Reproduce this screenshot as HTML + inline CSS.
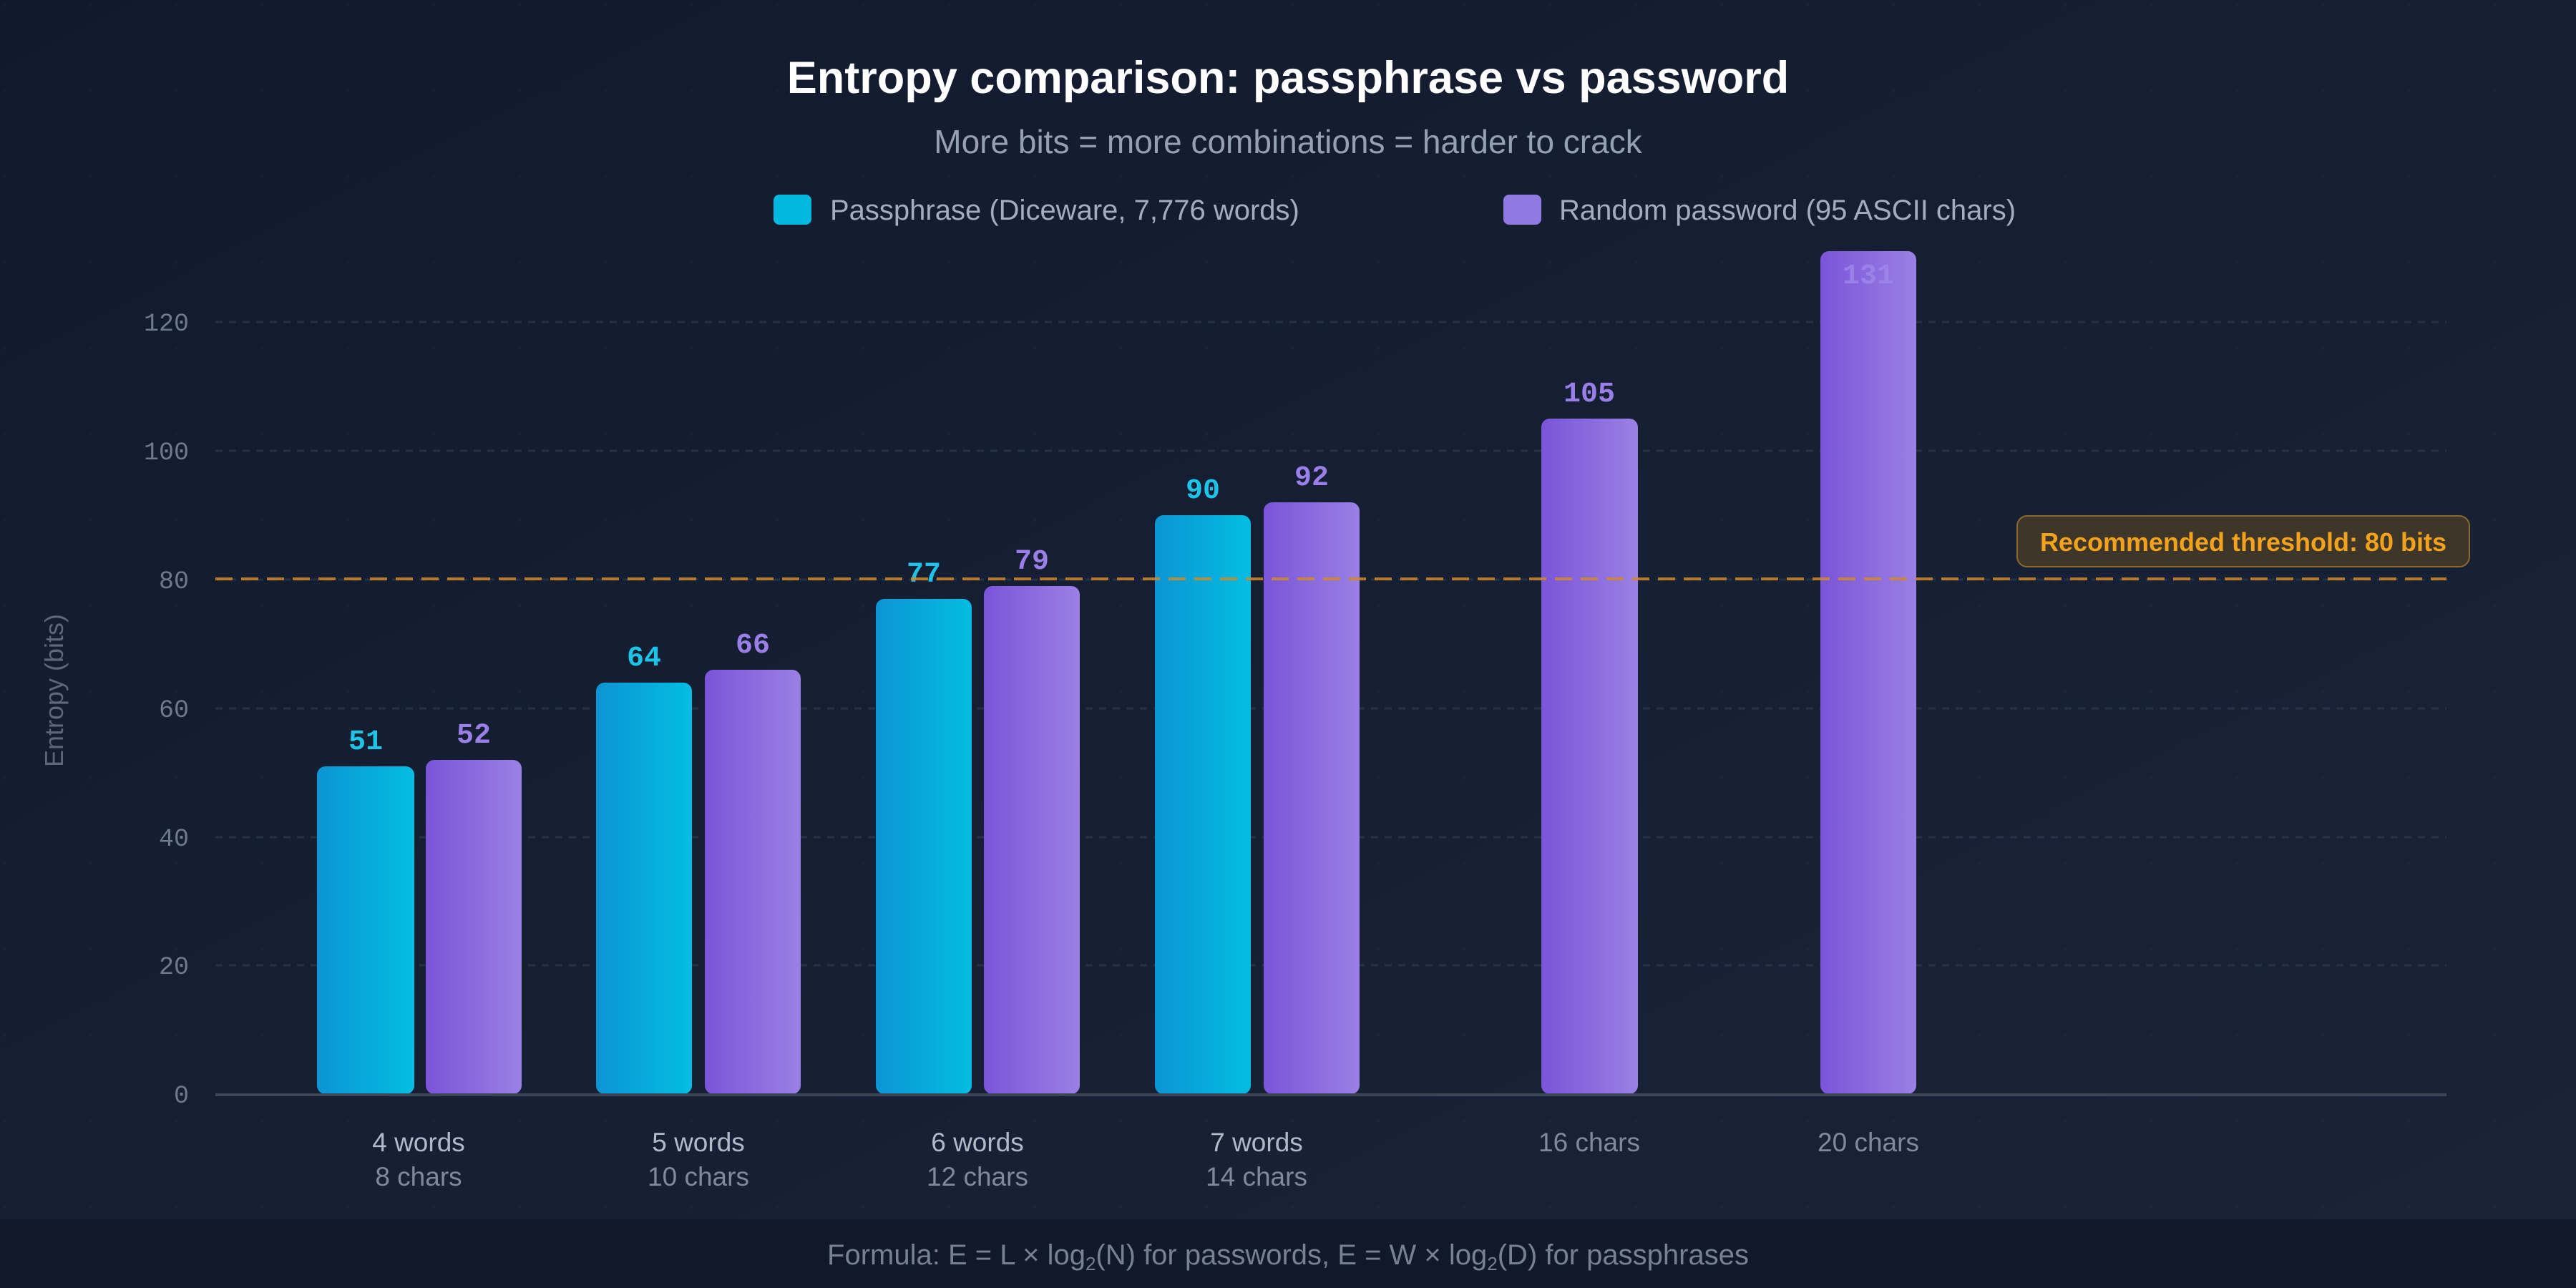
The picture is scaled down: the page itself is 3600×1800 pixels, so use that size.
<!DOCTYPE html>
<html><head><meta charset="utf-8"><style>
html,body{margin:0;padding:0;background:#131b2e}
svg{display:block}
</style></head><body>
<svg width="3600" height="1800" viewBox="0 0 3600 1800" xmlns="http://www.w3.org/2000/svg">
<defs>
<linearGradient id="bg" x1="0" y1="0" x2="1" y2="1">
<stop offset="0" stop-color="#111a2d"/><stop offset="1" stop-color="#1a2438"/></linearGradient>
<linearGradient id="cy" x1="0" y1="0" x2="1" y2="0">
<stop offset="0" stop-color="#0c95d3"/><stop offset="1" stop-color="#03bde2"/></linearGradient>
<linearGradient id="pu" x1="0" y1="0" x2="1" y2="0">
<stop offset="0" stop-color="#7a55d8"/><stop offset="1" stop-color="#9a80e4"/></linearGradient>
<pattern id="dots" x="5" y="5" width="120" height="120" patternUnits="userSpaceOnUse">
<ellipse cx="0" cy="0" rx="3" ry="4" fill="#ffffff" fill-opacity="0.035"/></pattern>
</defs>
<rect width="3600" height="1800" fill="url(#bg)"/>
<rect width="3600" height="1800" fill="url(#dots)"/>
<rect y="1704" width="3600" height="96" fill="#111827"/>

<g font-family="Liberation Sans, sans-serif" text-anchor="middle">
<text x="1800" y="130" font-size="63" font-weight="bold" fill="#ffffff">Entropy comparison: passphrase vs password</text>
<text x="1800" y="214" font-size="46" fill="#94a0b4">More bits = more combinations = harder to crack</text>
</g>
<rect x="1081" y="272" width="53" height="42" rx="8" fill="#03b8e0"/>
<text x="1160" y="307" font-family="Liberation Sans, sans-serif" font-size="40" fill="#a3adbf">Passphrase (Diceware, 7,776 words)</text>
<rect x="2101" y="272" width="53" height="42" rx="8" fill="#9079e0"/>
<text x="2179" y="307" font-family="Liberation Sans, sans-serif" font-size="40" fill="#a3adbf">Random password (95 ASCII chars)</text>

<g stroke="#334155" stroke-opacity="0.55" stroke-width="3" stroke-dasharray="10 9">
<line x1="301" x2="3419" y1="1349" y2="1349"/>
<line x1="301" x2="3419" y1="1170" y2="1170"/>
<line x1="301" x2="3419" y1="990" y2="990"/>
<line x1="301" x2="3419" y1="810" y2="810"/>
<line x1="301" x2="3419" y1="630" y2="630"/>
<line x1="301" x2="3419" y1="450" y2="450"/>
</g>
<g font-family="Liberation Mono, monospace" font-size="35" fill="#6e7a8d" text-anchor="end">
<text x="264" y="1541">0</text><text x="264" y="1361">20</text><text x="264" y="1182">40</text>
<text x="264" y="1002">60</text><text x="264" y="822">80</text><text x="264" y="642">100</text><text x="264" y="462">120</text>
</g>
<text transform="translate(88,965) rotate(-90)" font-family="Liberation Sans, sans-serif" font-size="36" fill="#5d6879" text-anchor="middle">Entropy (bits)</text>

<g>
<rect x="443" y="1071" width="136" height="458" rx="12" fill="url(#cy)"/>
<rect x="595" y="1062" width="134" height="467" rx="12" fill="url(#pu)"/>
<rect x="833" y="954" width="134" height="575" rx="12" fill="url(#cy)"/>
<rect x="985" y="936" width="134" height="593" rx="12" fill="url(#pu)"/>
<rect x="1224" y="837" width="134" height="692" rx="12" fill="url(#cy)"/>
<rect x="1375" y="819" width="134" height="710" rx="12" fill="url(#pu)"/>
<rect x="1614" y="720" width="134" height="809" rx="12" fill="url(#cy)"/>
<rect x="1766" y="702" width="134" height="827" rx="12" fill="url(#pu)"/>
<rect x="2154" y="585" width="135" height="944" rx="12" fill="url(#pu)"/>
<rect x="2544" y="351" width="134" height="1178" rx="12" fill="url(#pu)"/>
</g>
<line x1="301" x2="3419" y1="1530" y2="1530" stroke="#3b4657" stroke-width="4"/>

<g font-family="Liberation Mono, monospace" font-size="40" font-weight="bold" text-anchor="middle">
<text x="511" y="1047" fill="#1ec3e8">51</text>
<text x="662" y="1038" fill="#9a7fe8">52</text>
<text x="900" y="930" fill="#1ec3e8">64</text>
<text x="1052" y="912" fill="#9a7fe8">66</text>
<text x="1291" y="813" fill="#1ec3e8">77</text>
<text x="1442" y="795" fill="#9a7fe8">79</text>
<text x="1681" y="696" fill="#1ec3e8">90</text>
<text x="1833" y="678" fill="#9a7fe8">92</text>
<text x="2221" y="561" fill="#9a7fe8">105</text>
<text x="2611" y="396" fill="#9d86ea" fill-opacity="0.85">131</text>
</g>

<line x1="301" x2="3419" y1="809" y2="809" stroke="#d08a28" stroke-opacity="0.85" stroke-width="4" stroke-dasharray="24 12"/>
<rect x="2819" y="721" width="632" height="71" rx="14" fill="#4a3c28" fill-opacity="0.8" stroke="#8a6a2a" stroke-width="2"/>
<text x="3135" y="770" font-family="Liberation Sans, sans-serif" font-size="36" font-weight="bold" fill="#f2a21c" text-anchor="middle">Recommended threshold: 80 bits</text>

<g font-family="Liberation Sans, sans-serif" font-size="37" text-anchor="middle">
<text x="585" y="1609" fill="#b0bac8">4 words</text><text x="585" y="1657" fill="#7f8a9a">8 chars</text>
<text x="976" y="1609" fill="#b0bac8">5 words</text><text x="976" y="1657" fill="#7f8a9a">10 chars</text>
<text x="1366" y="1609" fill="#b0bac8">6 words</text><text x="1366" y="1657" fill="#7f8a9a">12 chars</text>
<text x="1756" y="1609" fill="#b0bac8">7 words</text><text x="1756" y="1657" fill="#7f8a9a">14 chars</text>
<text x="2221" y="1609" fill="#7f8a9a">16 chars</text>
<text x="2611" y="1609" fill="#7f8a9a">20 chars</text>
</g>
<text x="1800" y="1767" font-family="Liberation Sans, sans-serif" font-size="40" fill="#768194" text-anchor="middle">Formula: E = L × log<tspan font-size="26" dy="8">2</tspan><tspan dy="-8">(N) for passwords, E = W × log</tspan><tspan font-size="26" dy="8">2</tspan><tspan dy="-8">(D) for passphrases</tspan></text>
</svg>
</body></html>
